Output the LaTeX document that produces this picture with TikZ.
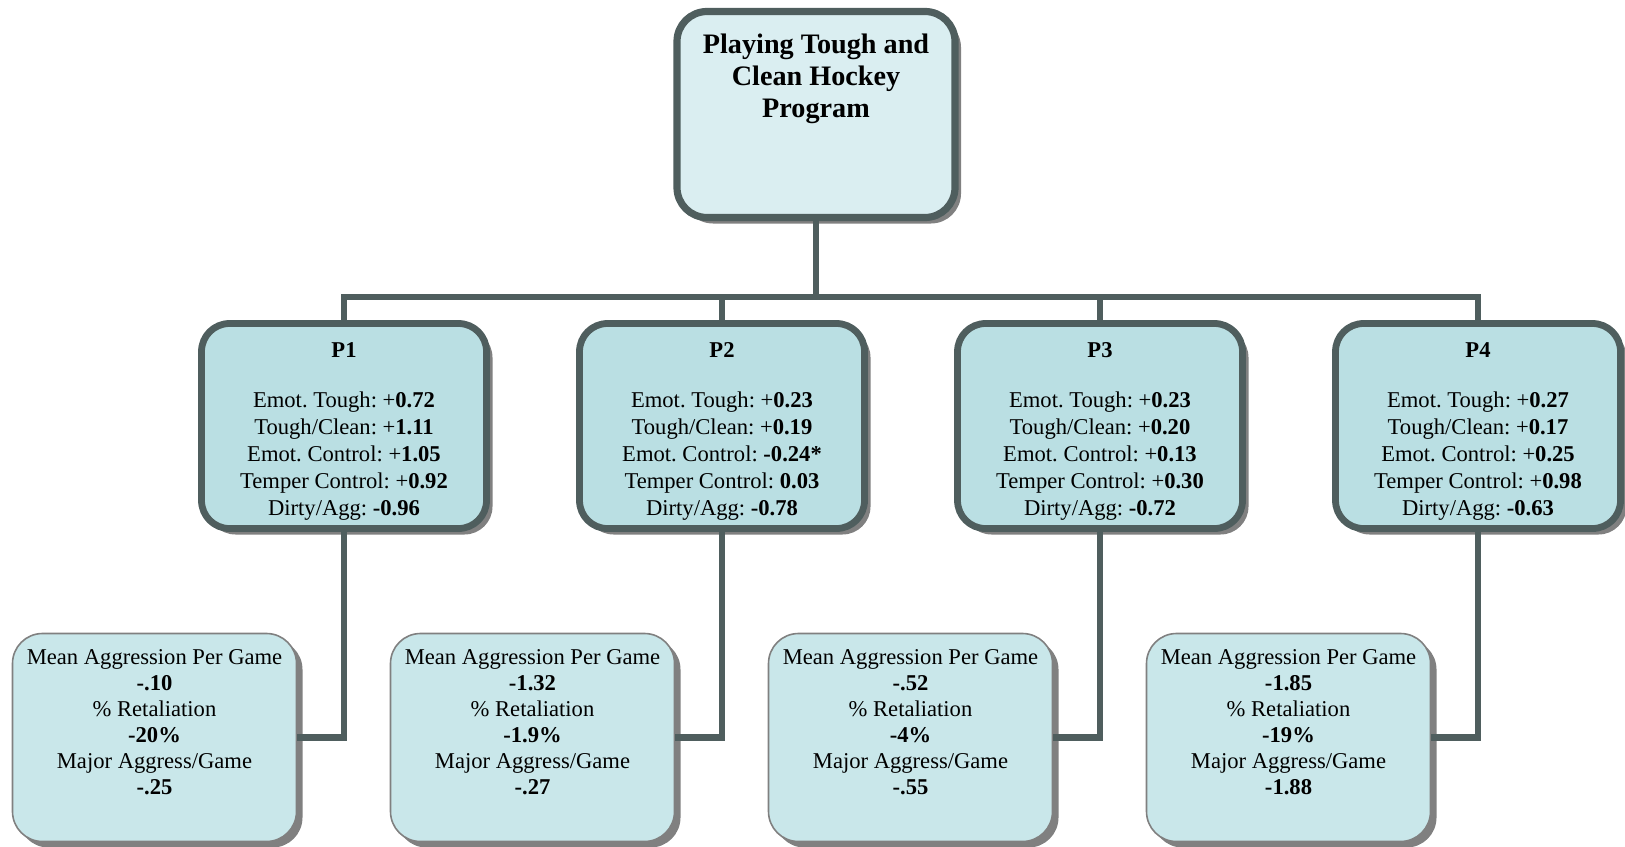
\documentclass[tikz,border=0pt]{standalone}
\usepackage{fontspec}
\setmainfont{Liberation Serif}
\frenchspacing
\usetikzlibrary{shadows}
\definecolor{boxline}{RGB}{79,94,94}
\definecolor{topfill}{RGB}{218,238,241}
\definecolor{midfill}{RGB}{186,223,227}
\definecolor{lowfill}{RGB}{201,231,234}
\definecolor{shadowgray}{RGB}{128,128,128}
\tikzset{
  progbox/.style={draw=boxline, line width=3.6pt, fill=topfill, rounded corners=15pt,
    minimum width=139pt, minimum height=103pt, align=center,
    font=\fontsize{14.1}{16}\selectfont\bfseries,
    drop shadow={shadow xshift=3pt, shadow yshift=-3pt, fill=shadowgray, opacity=1}},
  partbox/.style={draw=boxline, line width=3.4pt, fill=midfill, rounded corners=14pt,
    minimum width=142.5pt, minimum height=102.5pt, align=center,
    font=\fontsize{11.3}{13.5}\selectfont,
    drop shadow={shadow xshift=3pt, shadow yshift=-3pt, fill=shadowgray, opacity=1}},
  outbox/.style={draw=shadowgray, line width=0.8pt, fill=lowfill, rounded corners=15pt,
    minimum width=142pt, minimum height=104pt, align=center,
    font=\fontsize{11.3}{13}\selectfont,
    drop shadow={shadow xshift=3pt, shadow yshift=-3pt, fill=shadowgray, opacity=1}},
  link/.style={draw=boxline, line width=3.2pt}
}
\newcommand{\parthead}[1]{\rule{0pt}{13pt}\textbf{#1}\\[11.4pt]}
\begin{document}
\begin{tikzpicture}[x=0.5pt,y=0.5pt,yscale=-1,xscale=1]
\useasboundingbox (0,0) rectangle (1625,846);

%Shape: Program box
\node[progbox] (prog) at (816,114.5) {Playing Tough and\\Clean Hockey\\Program\\[23pt]\mbox{}};

%Shape: Part boxes
\node[partbox] (p1) at (344,426) {\parthead{P1}
  Emot. Tough: +\textbf{0.72}\\Tough/Clean: +\textbf{1.11}\\Emot. Control: +\textbf{1.05}\\
  Temper Control: +\textbf{0.92}\\Dirty/Agg: \textbf{-0.96}};
\node[partbox] (p2) at (722,426) {\parthead{P2}
  Emot. Tough: +\textbf{0.23}\\Tough/Clean: +\textbf{0.19}\\Emot. Control: \textbf{-0.24*}\\
  Temper Control: \textbf{0.03}\\Dirty/Agg: \textbf{-0.78}};
\node[partbox] (p3) at (1100,426) {\parthead{P3}
  Emot. Tough: +\textbf{0.23}\\Tough/Clean: +\textbf{0.20}\\Emot. Control: +\textbf{0.13}\\
  Temper Control: +\textbf{0.30}\\Dirty/Agg: \textbf{-0.72}};
\node[partbox] (p4) at (1478,426) {\parthead{P4}
  Emot. Tough: +\textbf{0.27}\\Tough/Clean: +\textbf{0.17}\\Emot. Control: +\textbf{0.25}\\
  Temper Control: +\textbf{0.98}\\Dirty/Agg: \textbf{-0.63}};

%Shape: Outcome boxes
\node[outbox] (m1) at (154.5,737.5) {Mean Aggression Per Game\\\textbf{-.10}\\\% Retaliation\\\textbf{-20\%}\\
  Major Aggress/Game\\\textbf{-.25}\\[2.5pt]\mbox{}};
\node[outbox] (m2) at (532.5,737.5) {Mean Aggression Per Game\\\textbf{-1.32}\\\% Retaliation\\\textbf{-1.9\%}\\
  Major Aggress/Game\\\textbf{-.27}\\[2.5pt]\mbox{}};
\node[outbox] (m3) at (910.5,737.5) {Mean Aggression Per Game\\\textbf{-.52}\\\% Retaliation\\\textbf{-4\%}\\
  Major Aggress/Game\\\textbf{-.55}\\[2.5pt]\mbox{}};
\node[outbox] (m4) at (1288.5,737.5) {Mean Aggression Per Game\\\textbf{-1.85}\\\% Retaliation\\\textbf{-19\%}\\
  Major Aggress/Game\\\textbf{-1.88}\\[2.5pt]\mbox{}};

%Straight Lines: bus
\coordinate (bus) at (816,297);
\draw[link] (prog.south) -- (bus);
\draw[link] (p1.north) |- (bus) -| (p4.north);
\draw[link] (p2.north) -- (p2.north |- bus);
\draw[link] (p3.north) -- (p3.north |- bus);

%Straight Lines: outcomes
\draw[link] (p1.south) |- (m1.east);
\draw[link] (p2.south) |- (m2.east);
\draw[link] (p3.south) |- (m3.east);
\draw[link] (p4.south) |- (m4.east);

\end{tikzpicture}
\end{document}
